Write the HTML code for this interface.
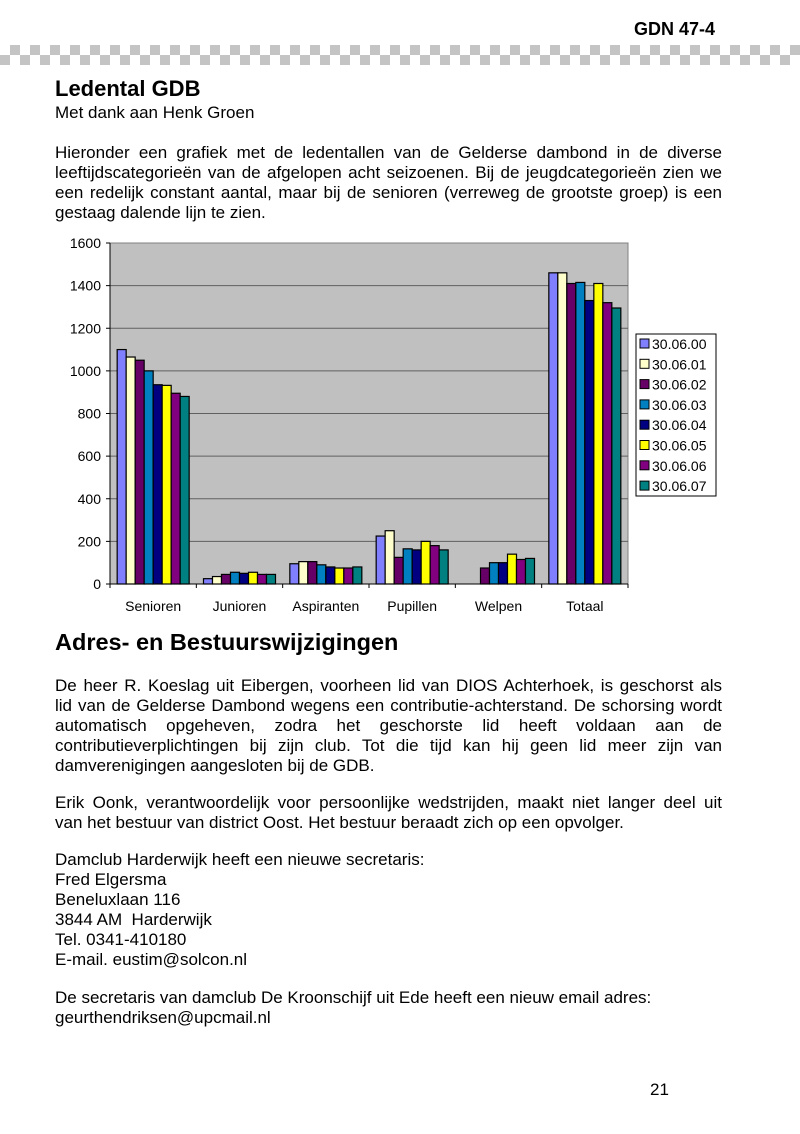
<!DOCTYPE html>
<html><head><meta charset="utf-8">
<style>
body{margin:0;background:#fff;}
#page{position:relative;width:800px;height:1134px;overflow:hidden;font-family:"Liberation Sans",Arial,sans-serif;color:#000;}
.l{position:absolute;left:55px;width:667px;font-size:17px;line-height:20px;white-space:nowrap;}
.j{text-align:justify;text-align-last:justify;}
h1,h2{position:absolute;left:55px;margin:0;font-weight:bold;}
#checker{position:absolute;left:0;top:45px;width:800px;height:20px;
background-image:linear-gradient(45deg,#c4c4c4 25%,transparent 25%,transparent 75%,#c4c4c4 75%),linear-gradient(45deg,#c4c4c4 25%,transparent 25%,transparent 75%,#c4c4c4 75%);
background-size:20px 20px;background-position:0 0,10px 10px;}
</style></head>
<body><div id="page">
<div style="position:absolute;left:634px;top:19px;font-weight:bold;font-size:18px;">GDN 47-4</div>
<div id="checker"></div>
<h1 style="top:76px;font-size:22px;">Ledental GDB</h1>
<div class="l" style="top:103px">Met dank aan Henk Groen</div>
<div class="l j" style="top:143px">Hieronder een grafiek met de ledentallen van de Gelderse dambond in de diverse</div>
<div class="l j" style="top:163px">leeftijdscategorieën van de afgelopen acht seizoenen. Bij de jeugdcategorieën zien we</div>
<div class="l j" style="top:183px">een redelijk constant aantal, maar bij de senioren (verreweg de grootste groep) is een</div>
<div class="l" style="top:203px">gestaag dalende lijn te zien.</div>

<svg id="chart" style="position:absolute;left:0;top:0" width="800" height="620"></svg>

<h2 style="top:629px;font-size:23.5px;">Adres- en Bestuurswijzigingen</h2>
<div class="l j" style="top:676px">De heer R. Koeslag uit Eibergen, voorheen lid van DIOS Achterhoek, is geschorst als</div>
<div class="l j" style="top:696px">lid van de Gelderse Dambond wegens een contributie-achterstand. De schorsing wordt</div>
<div class="l j" style="top:716px">automatisch opgeheven, zodra het geschorste lid heeft voldaan aan de</div>
<div class="l j" style="top:736px">contributieverplichtingen bij zijn club. Tot die tijd kan hij geen lid meer zijn van</div>
<div class="l" style="top:756px">damverenigingen aangesloten bij de GDB.</div>
<div class="l j" style="top:793px">Erik Oonk, verantwoordelijk voor persoonlijke wedstrijden, maakt niet langer deel uit</div>
<div class="l" style="top:813px">van het bestuur van district Oost. Het bestuur beraadt zich op een opvolger.</div>
<div class="l" style="top:850px">Damclub Harderwijk heeft een nieuwe secretaris:</div>
<div class="l" style="top:870px">Fred Elgersma</div>
<div class="l" style="top:890px">Beneluxlaan 116</div>
<div class="l" style="top:910px">3844 AM&nbsp; Harderwijk</div>
<div class="l" style="top:930px">Tel. 0341-410180</div>
<div class="l" style="top:950px">E-mail. eustim@solcon.nl</div>
<div class="l" style="top:988px">De secretaris van damclub De Kroonschijf uit Ede heeft een nieuw email adres:</div>
<div class="l" style="top:1008px">geurthendriksen@upcmail.nl</div>
<div style="position:absolute;left:650px;top:1080px;font-size:17px;">21</div>
</div>
<script>
const categories=["Senioren","Junioren","Aspiranten","Pupillen","Welpen","Totaal"];
const seriesNames=["30.06.00","30.06.01","30.06.02","30.06.03","30.06.04","30.06.05","30.06.06","30.06.07"];
const s00=[1100,25,95,225,0,1460];
const s01=[1065,35,105,250,0,1460];
const s02=[1050,45,105,125,75,1410];
const s03=[1000,55,90,165,100,1415];
const s04=[935,50,80,160,100,1330];
const s05=[932,55,75,200,140,1410];
const s06=[895,45,75,180,115,1320];
const s07=[880,45,80,160,120,1295];
const series=[s00,s01,s02,s03,s04,s05,s06,s07];
const colors=["#8080ff","#ffffcc","#660066","#0080c0","#000080","#ffff00","#800080","#008080"];
const yTicks=[0,200,400,600,800,1000,1200,1400,1600];

const svg=document.getElementById('chart');
const NS="http://www.w3.org/2000/svg";
const X0=110,X1=628,Y0=584,Y1=243,YMAX=1600;
const y=v=>Y0-(v/YMAX)*(Y0-Y1);
const cw=(X1-X0)/categories.length;
const bw=9;
const xBar=(c,s)=>X0+c*cw+(cw-bw*series.length)/2+s*bw;
function mk(tag,a,p){const e=document.createElementNS(NS,tag);for(const k in a)e.setAttribute(k,a[k]);(p||svg).appendChild(e);return e;}

let r=mk('rect',{x:X0,y:Y1,width:X1-X0,height:Y0-Y1,fill:'#c0c0c0',stroke:'#808080'});


yTicks.forEach(t=>{
  if(t>0&&t<YMAX){const g=mk('line',{x1:X0,x2:X1,y1:y(t),y2:y(t),stroke:'#606060','stroke-width':1});
  
  }
  mk('line',{x1:X0-4,x2:X0,y1:y(t),y2:y(t),stroke:'#000'});
  const tx=mk('text',{x:X0-9,y:y(t)+5,'text-anchor':'end','font-size':14,'font-family':'Liberation Sans,sans-serif'});
  tx.textContent=t;
  
  
});
mk('line',{x1:X0,x2:X0,y1:Y1,y2:Y0,stroke:'#000'});
mk('line',{x1:X0,x2:X1,y1:Y0,y2:Y0,stroke:'#000'});
categories.forEach((c,i)=>{
  mk('line',{x1:X0+i*cw,x2:X0+i*cw,y1:Y0,y2:Y0+4,stroke:'#000'});
  const tx=mk('text',{x:X0+(i+0.5)*cw,y:Y0+27,'text-anchor':'middle','font-size':14,'font-family':'Liberation Sans,sans-serif'});
  tx.textContent=c;
  
  
});
mk('line',{x1:X1,x2:X1,y1:Y0,y2:Y0+4,stroke:'#000'});
series.forEach((arr,s)=>{
  arr.forEach((v,c)=>{
    if(v<=0)return;
    const b=mk('rect',{x:xBar(c,s),y:y(v),width:bw,height:Y0-y(v),fill:colors[s],stroke:'#000','stroke-width':1.2});
    
    
  });
});
const lg=mk('g',{});


mk('rect',{x:636,y:334,width:80,height:162,fill:'#fff',stroke:'#000'},lg);
seriesNames.forEach((n,i)=>{
  const yy=344+i*20.3;
  const sw=mk('rect',{x:640,y:yy-5,width:9,height:9,fill:colors[i],stroke:'#000'},lg);
  
  
  const t=mk('text',{x:652,y:yy+5,'font-size':14,'font-family':'Liberation Sans,sans-serif'},lg);
  t.textContent=n;
  
  
});
</script>
</body></html>
